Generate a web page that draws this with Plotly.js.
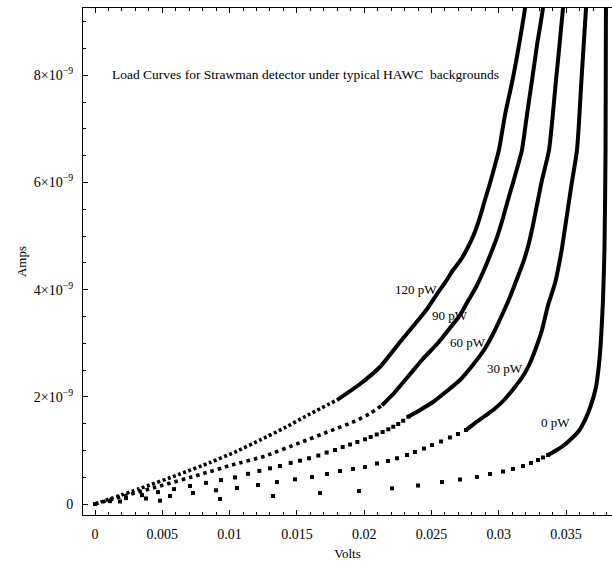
<!DOCTYPE html>
<html>
<head>
<meta charset="utf-8">
<script src="https://cdn.plot.ly/plotly-3.0.1.min.js"></script>
<style>html,body{margin:0;padding:0;background:#fff;}#chart{width:612px;height:566px;}</style>
</head>
<body>
<div id="chart"></div>
<script>
// ---- Data (Volts, current in units of 1e-9 A) ----
const xTickVals = [0, 0.005, 0.01, 0.015, 0.02, 0.025, 0.03, 0.035];
const xTickText = ['0', '0.005', '0.01', '0.015', '0.02', '0.025', '0.03', '0.035'];
const yTickVals = [0, 2, 4, 6, 8];
const yTickText = ['0', '2×10<sup>−9</sup>', '4×10<sup>−9</sup>', '6×10<sup>−9</sup>', '8×10<sup>−9</sup>'];

// 120 pW
const p120DotV = [0, 0.00334, 0.00632, 0.00854, 0.0104, 0.01226, 0.01412, 0.01597, 0.01798];
const p120DotI = [0, 0.289, 0.56, 0.774, 0.97, 1.194, 1.427, 1.679, 1.94];
const p120SolidV = [0.01798, 0.01969, 0.02117, 0.02266, 0.02377, 0.02467, 0.02541, 0.02608, 0.0266, 0.02712, 0.02764, 0.02816, 0.0286, 0.02897, 0.02935, 0.02972, 0.03001, 0.03046, 0.03105, 0.0315, 0.03195, 0.0321];
const p120SolidI = [1.94, 2.239, 2.556, 3.022, 3.358, 3.638, 3.918, 4.16, 4.366, 4.534, 4.757, 5.037, 5.354, 5.672, 5.989, 6.325, 6.604, 7.257, 7.948, 8.563, 9.254, 9.59];

// 90 pW
const p90DotV = [0, 0.00483, 0.0078, 0.01018, 0.01263, 0.01523, 0.01746, 0.01932, 0.02043, 0.02132];
const p90DotI = [0, 0.336, 0.55, 0.728, 0.896, 1.144, 1.362, 1.547, 1.688, 1.84];
const p90SolidV = [0.02132, 0.02229, 0.0234, 0.02437, 0.02541, 0.02637, 0.02712, 0.02771, 0.02831, 0.0289, 0.02942, 0.02987, 0.03031, 0.03068, 0.03105, 0.03143, 0.03172, 0.03209, 0.03247, 0.03284, 0.03328, 0.03336];
const p90SolidI = [1.84, 2.09, 2.42, 2.71, 2.985, 3.284, 3.526, 3.787, 4.049, 4.366, 4.683, 4.981, 5.336, 5.672, 5.989, 6.325, 6.604, 7.257, 7.91, 8.563, 9.254, 9.59];

// 60 pW
const p60DotV = [0, 0.00111, 0.0023, 0.00349, 0.00468, 0.00587, 0.00706, 0.00825, 0.00936, 0.0104, 0.01137, 0.01221, 0.013, 0.01374, 0.01454, 0.01523, 0.0159, 0.01659, 0.01721, 0.01783, 0.0184, 0.01895, 0.01949, 0.02006, 0.02048, 0.02093, 0.02137, 0.02179, 0.02216, 0.02253, 0.0229, 0.02328];
const p60DotI = [0, 0.053, 0.11, 0.166, 0.222, 0.278, 0.336, 0.394, 0.446, 0.496, 0.563, 0.618, 0.666, 0.709, 0.767, 0.808, 0.853, 0.905, 0.961, 1.007, 1.063, 1.11, 1.157, 1.207, 1.25, 1.297, 1.343, 1.394, 1.442, 1.493, 1.554, 1.629];
const p60SolidV = [0.02328, 0.02415, 0.02511, 0.02615, 0.02712, 0.02801, 0.0289, 0.02957, 0.03024, 0.03083, 0.03143, 0.03187, 0.03224, 0.03254, 0.03291, 0.03321, 0.03373, 0.03425, 0.03477, 0.03484];
const p60SolidI = [1.629, 1.754, 1.903, 2.108, 2.313, 2.575, 2.873, 3.172, 3.526, 3.862, 4.254, 4.552, 4.869, 5.205, 5.672, 6.045, 6.604, 7.91, 9.254, 9.59];

// 30 pW
const p30DotV = [0, 0.00186, 0.00379, 0.00557, 0.00728, 0.00899, 0.01055, 0.01211, 0.01352, 0.01486, 0.01612, 0.01724, 0.0182, 0.01917, 0.02006, 0.02095, 0.02177, 0.02244, 0.02318, 0.02377, 0.02444, 0.02504, 0.02571, 0.02637, 0.02697, 0.02756];
const p30DotI = [0, 0.047, 0.103, 0.149, 0.205, 0.256, 0.299, 0.354, 0.41, 0.461, 0.504, 0.56, 0.616, 0.653, 0.69, 0.756, 0.802, 0.853, 0.914, 0.97, 1.035, 1.101, 1.166, 1.241, 1.306, 1.381];
const p30SolidV = [0.02756, 0.02823, 0.02897, 0.02972, 0.03046, 0.0312, 0.0318, 0.03232, 0.03284, 0.03321, 0.03366, 0.03418, 0.03467, 0.03504, 0.03542, 0.03581, 0.03614, 0.03648, 0.03655];
const p30SolidI = [1.381, 1.511, 1.642, 1.782, 1.959, 2.183, 2.388, 2.631, 2.966, 3.246, 3.713, 4.123, 4.739, 5.354, 5.989, 6.604, 7.91, 9.254, 9.59];

// 0 pW
const p0DotV = [0, 0.00483, 0.00929, 0.01322, 0.01672, 0.01961, 0.02207, 0.024, 0.02578, 0.02712, 0.02838, 0.02935, 0.03031, 0.03105, 0.0318, 0.03239, 0.03291, 0.03328, 0.03366];
const p0DotI = [0, 0.062, 0.093, 0.149, 0.205, 0.243, 0.293, 0.345, 0.41, 0.457, 0.504, 0.56, 0.606, 0.653, 0.709, 0.765, 0.821, 0.868, 0.914];
const p0SolidV = [0.03366, 0.0343, 0.03477, 0.03529, 0.03588, 0.0364, 0.03685, 0.03722, 0.03744, 0.03759, 0.03774, 0.03785, 0.03793, 0.03796, 0.03798];
const p0SolidI = [0.914, 1.007, 1.082, 1.194, 1.343, 1.567, 1.847, 2.183, 2.593, 3.06, 3.806, 4.739, 6.604, 9.254, 9.59];

// Curve labels
const labelText = ['120 pW', '90 pW', '60 pW', '30 pW', '0 pW'];
const labelV = [0.02385, 0.02637, 0.02771, 0.03046, 0.03418];
const labelI = [3.993, 3.526, 3.022, 2.537, 1.53];

const titleText = 'Load Curves for Strawman detector under typical HAWC&nbsp; backgrounds';

// ---- Traces ----
const serif = '"Liberation Serif", "Times New Roman", serif';
const black = '#000000';
function solid(v, i) {
  return {x: v, y: i, type: 'scatter', mode: 'lines', line: {color: black, width: 4, shape: 'spline', smoothing: 0.6}, hoverinfo: 'skip', showlegend: false};
}
function dashed(v, i, dash) {
  return {x: v, y: i, type: 'scatter', mode: 'lines', line: {color: black, width: 3.6, dash: dash, shape: 'spline', smoothing: 0.6}, hoverinfo: 'skip', showlegend: false};
}
function dots(v, i) {
  return {x: v, y: i, type: 'scatter', mode: 'markers', marker: {symbol: 'square', size: 4, color: black}, hoverinfo: 'skip', showlegend: false};
}

const traces = [
  dashed(p120DotV, p120DotI, '3px,2.5px'), solid(p120SolidV, p120SolidI),
  dashed(p90DotV, p90DotI, '3.5px,4px'), solid(p90SolidV, p90SolidI),
  dots(p60DotV, p60DotI), solid(p60SolidV, p60SolidI),
  dots(p30DotV, p30DotI), solid(p30SolidV, p30SolidI),
  dots(p0DotV, p0DotI), solid(p0SolidV, p0SolidI)
];

const annotations = labelText.map((t, k) => ({
  x: labelV[k], y: labelI[k], xref: 'x', yref: 'y', text: t, showarrow: false,
  font: {family: serif, size: 13, color: black}, xanchor: 'center', yanchor: 'middle'
}));

const layout = {
  width: 612, height: 566,
  margin: {l: 83, r: 0, t: 8, b: 51, pad: 0},
  paper_bgcolor: '#ffffff', plot_bgcolor: '#ffffff',
  font: {family: serif, size: 14, color: black},
  showlegend: false,
  title: {text: titleText, x: 112 / 612, xanchor: 'left', xref: 'container', y: 1 - 74 / 566, yanchor: 'middle', yref: 'container',
          font: {family: serif, size: 13.5, color: black}},
  xaxis: {
    range: [-0.000892, 0.03841], tickmode: 'array', tickvals: xTickVals, ticktext: xTickText,
    ticks: 'inside', ticklen: 5, tickwidth: 1, tickcolor: black,
    minor: {dtick: 0.001, tick0: 0, ticks: 'inside', ticklen: 3, tickwidth: 1, tickcolor: black},
    showline: true, linecolor: black, linewidth: 1, mirror: 'allticks',
    showgrid: false, zeroline: false, ticklabelstandoff: 6,
    tickfont: {family: serif, size: 14, color: black},
    title: {text: 'Volts', font: {family: serif, size: 13, color: black}, standoff: 8}
  },
  yaxis: {
    range: [-0.205, 9.254], tickmode: 'array', tickvals: yTickVals, ticktext: yTickText,
    ticks: 'inside', ticklen: 5, tickwidth: 1, tickcolor: black,
    minor: {dtick: 0.5, tick0: 0, ticks: 'inside', ticklen: 3, tickwidth: 1, tickcolor: black},
    showline: true, linecolor: black, linewidth: 1, mirror: false,
    showgrid: false, zeroline: false, ticklabelstandoff: 6,
    tickfont: {family: serif, size: 14, color: black},
    title: {text: 'Amps', font: {family: serif, size: 13, color: black}, standoff: 4}
  },
  annotations: annotations
};

Plotly.newPlot('chart', traces, layout, {staticPlot: true, displayModeBar: false});
</script>
</body>
</html>
